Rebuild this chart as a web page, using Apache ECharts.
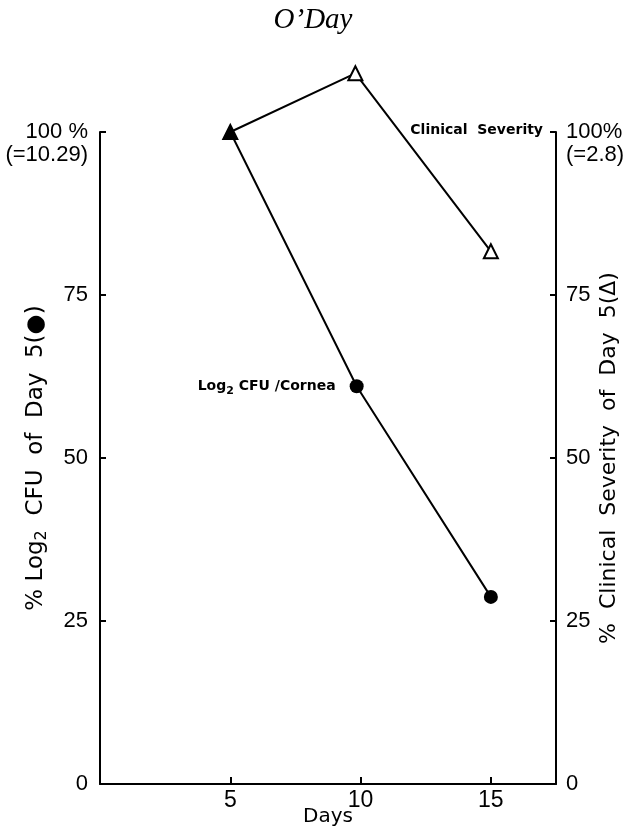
<!DOCTYPE html>
<html>
<head>
<meta charset="utf-8">
<script src="https://cdn.jsdelivr.net/npm/echarts@6/dist/echarts.min.js"></script>
<style>
  html, body { margin: 0; padding: 0; background: #fff; }
  #main { width: 626px; height: 833px; }
</style>
</head>
<body>
<div id="main"></div>
<script>
var dom = document.getElementById('main');
var myChart = echarts.init(dom);

// data (days, % of day 5)
var cfuDays = [5, 9.85, 15];
var cfuPct = [100, 61, 28.7];
var sevDays = [5, 9.8, 15];
var sevPct = [100, 109, 81.7];
var yTicks = [0, 25, 50, 75, 100];
var xTicks = [5, 10, 15];

var fontMain = 'DejaVu Sans';
var fontTick = 'Liberation Sans';

function pairs(xs, ys) {
    var out = [];
    for (var i = 0; i < xs.length; i++) {
        out.push([xs[i], ys[i]]);
    }
    return out;
}

var cfuData = pairs(cfuDays, cfuPct).map(function (p, i) {
    if (i == 0) {
        return { value: p, symbol: 'triangle', symbolSize: 15 };
    }
    return { value: p };
});
// day 10 point carries the series label
cfuData[1].label = {
    show: true,
    position: 'left',
    distance: 14,
    formatter: '{n|Log}{s|2}{n| CFU /Cornea}',
    rich: {
        n: { fontFamily: fontMain, fontWeight: 'bold', fontSize: 14, color: '#000' },
        s: { fontFamily: fontMain, fontWeight: 'bold', fontSize: 11, color: '#000', padding: [9, 0, 0, 0] }
    }
};

var sevData = pairs(sevDays, sevPct).map(function (p, i) {
    if (i == 0) {
        return { value: p, itemStyle: { color: '#000' } };
    }
    return { value: p };
});

option = {
    animation: false,
    backgroundColor: '#fff',
    title: {
        text: 'O\u2019Day',
        left: 'center',
        top: 1,
        textStyle: {
            fontFamily: 'Liberation Serif',
            fontStyle: 'italic',
            fontWeight: 'normal',
            fontSize: 29,
            color: '#000'
        }
    },
    grid: {
        left: 100,
        right: 70,
        top: 132,
        bottom: 49,
        containLabel: false,
        outerBoundsMode: 'none'
    },
    xAxis: {
        type: 'value',
        min: 0,
        max: 17.5,
        interval: 5,
        name: 'Days',
        nameLocation: 'middle',
        nameGap: 23,
        nameMoveOverlap: false,
        nameTextStyle: { fontFamily: fontMain, fontSize: 20, color: '#000' },
        splitLine: { show: false },
        axisLine: { lineStyle: { color: '#000', width: 2 } },
        axisTick: { inside: true, length: 7, lineStyle: { color: '#000', width: 2 } },
        axisLabel: {
            fontFamily: fontTick, fontSize: 23, color: '#000', margin: 5,
            formatter: function (v) { return xTicks.indexOf(v) >= 0 ? String(v) : ''; }
        }
    },
    yAxis: [
        {
            type: 'value',
            position: 'left',
            min: 0,
            max: 100,
            interval: 25,
            name: '{n|% Log}{s|2}{n|  CFU  of  Day  5(\u25CF)}',
            nameLocation: 'middle',
            nameRotate: 90,
            nameGap: 50,
            nameMoveOverlap: false,
            nameTextStyle: {
                rich: {
                    n: { fontFamily: fontMain, fontSize: 23, color: '#000' },
                    s: { fontFamily: fontMain, fontSize: 16, color: '#000', padding: [12, 0, 0, 0] }
                }
            },
            splitLine: { show: false },
            axisLine: { show: true, lineStyle: { color: '#000', width: 2 } },
            axisTick: { show: true, inside: true, length: 6, lineStyle: { color: '#000', width: 2 } },
            axisLabel: {
                fontFamily: fontTick, fontSize: 22, color: '#000', margin: 12, lineHeight: 23,
                formatter: function (v) {
                    if (v == 100) return '\n100 %\n(=10.29)';
                    return yTicks.indexOf(v) >= 0 ? String(v) : '';
                }
            }
        },
        {
            type: 'value',
            position: 'right',
            min: 0,
            max: 100,
            interval: 25,
            name: '%  Clinical  Severity  of  Day  5(\u0394)',
            nameLocation: 'middle',
            nameRotate: 90,
            nameGap: 42,
            nameMoveOverlap: false,
            nameTextStyle: { fontFamily: fontMain, fontSize: 22, color: '#000' },
            splitLine: { show: false },
            axisLine: { show: true, lineStyle: { color: '#000', width: 2 } },
            axisTick: { show: true, inside: true, length: 6, lineStyle: { color: '#000', width: 2 } },
            axisLabel: {
                fontFamily: fontTick, fontSize: 22, color: '#000', margin: 10, lineHeight: 23,
                formatter: function (v) {
                    if (v == 100) return '\n100%\n(=2.8)';
                    return yTicks.indexOf(v) >= 0 ? String(v) : '';
                }
            }
        }
    ],
    graphic: [
        {
            type: 'text',
            right: 83,
            top: 123,
            style: {
                text: 'Clinical  Severity',
                fontFamily: fontMain,
                fontWeight: 'bold',
                fontSize: 14,
                fill: '#000'
            }
        }
    ],
    series: [
        {
            name: 'Log2 CFU/Cornea',
            type: 'line',
            yAxisIndex: 0,
            clip: false,
            symbol: 'circle',
            symbolSize: 14,
            lineStyle: { color: '#000', width: 2 },
            itemStyle: { color: '#000' },
            z: 3,
            data: cfuData
        },
        {
            name: 'Clinical Severity',
            type: 'line',
            yAxisIndex: 1,
            clip: false,
            symbol: 'triangle',
            symbolSize: 14,
            lineStyle: { color: '#000', width: 2 },
            itemStyle: { color: '#fff', borderColor: '#000', borderWidth: 2 },
            z: 2,
            data: sevData
        }
    ]
};

if (option && typeof option === 'object') {
    myChart.setOption(option);
}
</script>
</body>
</html>
